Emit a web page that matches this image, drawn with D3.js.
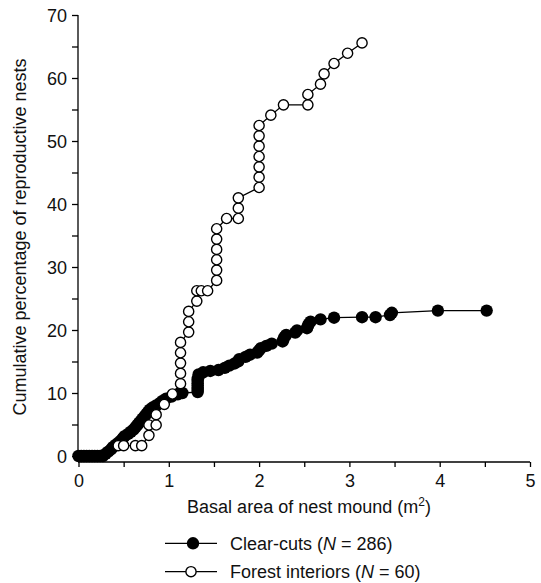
<!DOCTYPE html>
<html>
<head>
<meta charset="utf-8">
<script src="https://cdn.jsdelivr.net/npm/d3@7/dist/d3.min.js"></script>
<style>
  html, body { margin: 0; padding: 0; background: #fff; }
  svg { display: block; font-family: Arial, "Liberation Sans", Helvetica, sans-serif; }
</style>
</head>
<body>
<svg id="chart" width="541" height="583"></svg>
<script>
// ---- data ----
const clearCutX = [0.00,0.03,0.06,0.09,0.12,0.15,0.18,0.21,0.24,0.27,
  0.30,0.33,0.36,0.38,0.41,0.44,0.47,0.49,0.51,0.55,0.58,0.61,0.63,0.65,0.67,0.69,0.71,0.73,0.75,0.77,0.79,0.82,0.86,0.90,0.93,0.97,1.03,1.10,1.15,
  1.32,1.32,1.32,1.32,1.32,1.32,1.32,1.33,1.33,
  1.38,1.46,1.55,1.62,1.67,1.73,1.77,1.78,1.85,1.90,1.98,2.00,2.02,2.08,2.14,2.26,2.27,2.28,2.30,2.40,2.42,2.53,2.54,2.55,2.57,2.68,2.83,3.14,3.29,3.45,3.47,3.98,4.52];
const clearCutY = [0,0,0,0,0,0,0,0,0,0,
  0.35,0.70,1.05,1.40,1.75,2.10,2.45,2.80,3.15,3.50,3.85,4.20,4.55,4.90,5.24,5.59,5.94,6.29,6.64,6.99,7.34,7.69,8.04,8.39,8.74,9.09,9.44,9.79,10.0,
  10.14,10.49,10.84,11.19,11.54,11.89,12.24,12.59,12.94,
  13.29,13.50,13.64,13.99,14.34,14.69,15.03,15.38,15.73,16.08,16.43,16.78,17.13,17.48,17.83,18.18,18.53,18.88,19.23,19.58,19.93,20.28,20.63,20.98,21.33,21.68,21.95,22.03,22.03,22.38,22.73,23.08,23.08];

const forestX = [0.44,0.50,0.63,0.70,0.78,0.78,0.86,0.86,0.95,1.04,
  1.13,1.13,1.13,1.13,1.13,1.22,1.22,1.22,1.31,1.31,1.36,1.43,
  1.53,1.53,1.53,1.53,1.53,1.53,1.64,1.77,1.77,1.77,
  2.00,2.00,2.00,2.00,2.00,2.00,2.00,2.13,2.27,2.54,2.54,2.68,2.72,2.83,2.98,3.14];
const forestY = [1.64,1.64,1.64,1.64,3.28,4.92,4.92,6.56,8.20,9.84,
  11.48,13.11,14.75,16.39,18.03,19.67,21.31,22.95,24.59,26.23,26.23,26.23,
  27.87,29.51,31.15,32.79,34.43,36.07,37.70,37.70,39.34,40.98,
  42.62,44.26,45.90,47.54,49.18,50.82,52.46,54.10,55.74,55.74,57.38,59.02,60.66,62.30,63.93,65.57];

const xTicks = [0,0.5,1,1.5,2,2.5,3,3.5,4,4.5,5];
const xTickLabels = ["0","1","2","3","4","5"];
const yTicks = [0,5,10,15,20,25,30,35,40,45,50,55,60,65,70];
const yTickLabels = ["0","10","20","30","40","50","60","70"];

const xTitle = "Basal area of nest mound (m";
const yTitle = "Cumulative percentage of reproductive nests";
const legendNames = ["Clear-cuts", "Forest interiors"];
const legendN = ["286", "60"];

// ---- drawing ----
const FS = 18;
const svg = d3.select("#chart");
const x = d3.scaleLinear().domain([0, 5]).range([78.5, 530]);
const y = d3.scaleLinear().domain([0, 70]).range([456, 15]);
const axisY0 = 462;   // x-axis line position (offset below zero)
const axisX0 = 78;    // y-axis line position

// x axis
const xAxis = d3.axisBottom(x).tickValues(xTicks).tickSize(5)
  .tickFormat(d => Number.isInteger(d) ? xTickLabels[d] : "");
const gx = svg.append("g").attr("transform", `translate(0,${axisY0})`).call(xAxis);
gx.select(".domain").attr("d", `M${axisX0},0H${x(5)}`).attr("stroke", "#000").attr("stroke-width", 1.3);
gx.selectAll(".tick line").attr("stroke", "#000").attr("stroke-width", 1.3);
gx.selectAll(".tick text").attr("font-size", FS).attr("fill", "#111").attr("dy", null).attr("y", 25)
  .style("font-family", "Arial, 'Liberation Sans', sans-serif");

// y axis
const yAxis = d3.axisLeft(y).tickValues(yTicks).tickSize(6)
  .tickFormat(d => d % 10 === 0 ? yTickLabels[d / 10] : "");
const gy = svg.append("g").attr("transform", `translate(${axisX0},0)`).call(yAxis);
gy.select(".domain").attr("d", `M0,${y(70)}V${axisY0}`).attr("stroke", "#000").attr("stroke-width", 1.3);
gy.selectAll(".tick line").attr("stroke", "#000").attr("stroke-width", 1.3);
gy.selectAll(".tick text").attr("font-size", FS).attr("fill", "#111").attr("x", -11).attr("dy", "0.35em")
  .style("font-family", "Arial, 'Liberation Sans', sans-serif");

// axis titles
const xt = svg.append("text").attr("x", 309).attr("y", 512.5).attr("text-anchor", "middle")
  .attr("font-size", FS).attr("fill", "#111");
xt.append("tspan").text(xTitle);
xt.append("tspan").text("2").attr("font-size", 12).attr("dy", -7);
xt.append("tspan").text(")").attr("dy", 7);

svg.append("text").attr("transform", "translate(26,237) rotate(-90)").attr("text-anchor", "middle")
  .attr("font-size", FS).attr("fill", "#111").text(yTitle);

// series
const line = d3.line().x(d => x(d[0])).y(d => y(d[1]));
const ccData = clearCutX.map((v, i) => [v, clearCutY[i]]);
const fiData = forestX.map((v, i) => [v, forestY[i]]);

svg.append("path").datum(ccData).attr("d", line).attr("fill", "none").attr("stroke", "#000").attr("stroke-width", 1.3);
svg.append("g").selectAll("circle").data(ccData).join("circle")
  .attr("cx", d => x(d[0])).attr("cy", d => y(d[1])).attr("r", 6.2).attr("fill", "#000");

svg.append("path").datum(fiData).attr("d", line).attr("fill", "none").attr("stroke", "#000").attr("stroke-width", 1.3);
svg.append("g").selectAll("circle").data(fiData).join("circle")
  .attr("cx", d => x(d[0])).attr("cy", d => y(d[1])).attr("r", 5.1)
  .attr("fill", "#fff").attr("stroke", "#000").attr("stroke-width", 1.4);

// legend
const legY = [543.3, 571.7];
legendNames.forEach((name, i) => {
  const g = svg.append("g");
  g.append("line").attr("x1", 165).attr("x2", 217).attr("y1", legY[i]).attr("y2", legY[i])
    .attr("stroke", "#000").attr("stroke-width", 1.3);
  if (i === 0) {
    g.append("circle").attr("cx", 193).attr("cy", legY[i]).attr("r", 6.2).attr("fill", "#000");
  } else {
    g.append("circle").attr("cx", 191).attr("cy", legY[i]).attr("r", 5.1)
      .attr("fill", "#fff").attr("stroke", "#000").attr("stroke-width", 1.4);
  }
  const t = g.append("text").attr("x", 230).attr("y", legY[i] + 6.7).attr("font-size", FS).attr("fill", "#111");
  t.append("tspan").text(name + " (");
  t.append("tspan").text("N").attr("font-style", "italic");
  t.append("tspan").text(" = " + legendN[i] + ")");
});
</script>
</body>
</html>
